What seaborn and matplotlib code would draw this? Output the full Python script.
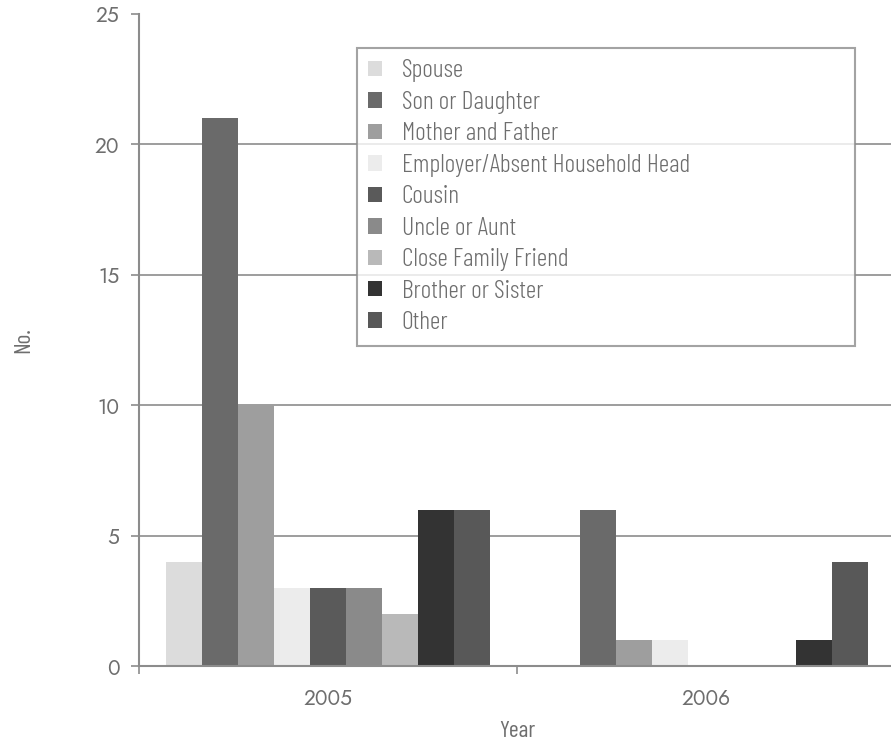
import numpy as np
import pandas as pd
import matplotlib
matplotlib.use("Agg")
import matplotlib.pyplot as plt
import seaborn as sns

years = ["2005", "2006"]
relations = [
    "Spouse", "Son or Daughter", "Mother and Father",
    "Employer/Absent Household Head", "Cousin", "Uncle or Aunt",
    "Close Family Friend", "Brother or Sister", "Other",
]
counts_2005 = [4, 21, 10, 3, 3, 3, 2, 6, 6]
counts_2006 = [0, 6, 1, 1, 0, 0, 0, 1, 4]
greys = ["#dcdcdc", "#6a6a6a", "#9e9e9e", "#ececec", "#5a5a5a",
         "#8a8a8a", "#b9b9b9", "#333333", "#585858"]

df = pd.DataFrame({
    "Year": [years[0]] * len(relations) + [years[1]] * len(relations),
    "Relation": relations * 2,
    "No.": counts_2005 + counts_2006,
})

sns.set_style("white")
cond = ["Barlow Condensed", "DejaVu Sans"]
digits = ["Jost", "DejaVu Sans"]
text_col = "#6e6e6e"
axis_col = "#8c8c8c"

fig = plt.figure(figsize=(8.91, 7.48), dpi=100)
ax = fig.add_axes([0.156, 0.1096, 0.8485, 0.8717])

sns.barplot(data=df, x="Year", y="No.", hue="Relation", hue_order=relations,
            palette=greys, width=0.855, saturation=1, linewidth=0,
            ax=ax, zorder=2)

ax.set_ylim(0, 25)
ax.set_xlim(-0.5, 1.5)
ax.set_yticks([0, 5, 10, 15, 20, 25])
for y in [5, 10, 15, 20]:
    ax.axhline(y, color=axis_col, lw=1.2, zorder=1)

for side in ["top", "right"]:
    ax.spines[side].set_visible(False)
for side in ["left", "bottom"]:
    ax.spines[side].set_color(axis_col)
    ax.spines[side].set_linewidth(1.5)

ax.tick_params(axis="y", length=6, width=1.2, color=axis_col,
               labelcolor=text_col, labelsize=15, pad=8, left=True)
ax.tick_params(axis="x", which="major", length=0, labelcolor=text_col,
               labelsize=15, pad=16)
ax.set_xticks([-0.5, 0.5], minor=True)
ax.tick_params(axis="x", which="minor", length=6, width=1.2, color=axis_col,
               bottom=True)
for lab in ax.get_xticklabels() + ax.get_yticklabels():
    lab.set_family(digits)

ax.set_xlabel("Year", family=cond, fontsize=17, color=text_col, labelpad=8)
ax.set_ylabel("No.", family=cond, fontsize=17, color=text_col, labelpad=44)

handles, labels = ax.get_legend_handles_labels()
leg = ax.legend(handles, labels, loc="upper left",
                bbox_to_anchor=(0.288, 0.948, 0.659, 0.0), mode="expand",
                frameon=True, fancybox=False,
                prop={"family": cond, "size": 18.5, "weight": 300},
                handlelength=0.55, handleheight=0.55, handletextpad=0.75,
                labelspacing=0.33, borderpad=0.45, borderaxespad=0)
leg.get_frame().set_edgecolor(axis_col)
leg.get_frame().set_linewidth(1.5)
for t in leg.get_texts():
    t.set_color(text_col)

fig.savefig("out.png", dpi=100)
